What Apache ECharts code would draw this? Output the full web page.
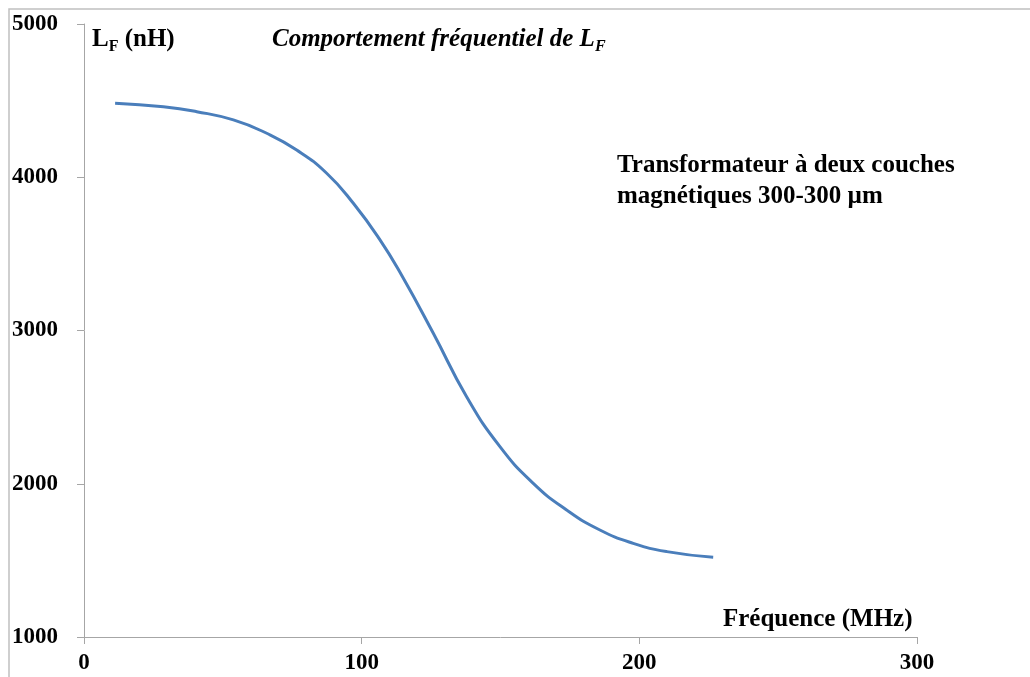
<!DOCTYPE html>
<html>
<head>
<meta charset="utf-8">
<script src="https://cdn.jsdelivr.net/npm/echarts@6/dist/echarts.min.js"></script>
<style>
  html, body { margin: 0; padding: 0; background: #fff; }
  #chart { width: 1030px; height: 677px; }
</style>
</head>
<body>
<div id="chart"></div>
<script>
// Frequency (MHz) and inductance L_F (nH)
const frequency = [11.2, 28.6, 40.6, 53.8, 65.8, 76.6, 87.4, 97.0, 106.6, 114.4, 125.8, 137.8, 149.8, 161.8, 173.8, 185.8, 197.8, 209.9, 226.6];
const inductance = [4483, 4460, 4428, 4374, 4287, 4178, 4026, 3830, 3591, 3360, 2982, 2568, 2242, 2003, 1829, 1698, 1611, 1557, 1520];

const xTicks = [0, 100, 200, 300];
const yTicks = [1000, 2000, 3000, 4000, 5000];

const serif = '"Liberation Serif", "Times New Roman", serif';
const axisGray = '#a6a6a6';

const chart = echarts.init(document.getElementById('chart'));

chart.setOption({
  backgroundColor: '#fff',
  animation: false,
  grid: { left: 84, right: 113, top: 24, bottom: 40, containLabel: false },
  xAxis: {
    type: 'value',
    min: xTicks[0],
    max: xTicks[xTicks.length - 1],
    interval: 100,
    splitLine: { show: false },
    axisLine: { show: true, lineStyle: { color: axisGray, width: 1 } },
    axisTick: { show: true, inside: false, length: 7, lineStyle: { color: axisGray } },
    axisLabel: {
      margin: 15,
      formatter: v => String(v),
      fontFamily: serif, fontWeight: 'bold', fontSize: 23, color: '#000'
    }
  },
  yAxis: {
    type: 'value',
    min: yTicks[0],
    max: yTicks[yTicks.length - 1],
    interval: 1000,
    splitLine: { show: false },
    axisLine: { show: true, lineStyle: { color: axisGray, width: 1 } },
    axisTick: { show: true, inside: false, length: 7, lineStyle: { color: axisGray } },
    axisLabel: {
      margin: 26,
      formatter: v => String(v),
      fontFamily: serif, fontWeight: 'bold', fontSize: 23, color: '#000'
    }
  },
  series: [{
    type: 'line',
    data: frequency.map((f, i) => [f, inductance[i]]),
    smooth: 0.5,
    showSymbol: false,
    lineStyle: { color: '#4a7ebb', width: 3 }
  }],
  graphic: [
    {
      // chart-area frame
      type: 'rect',
      shape: { x: 9, y: 9, width: 1200, height: 900 },
      style: { fill: 'none', stroke: '#c0c0c0', lineWidth: 1.5 },
      silent: true
    },
    {
      type: 'text',
      left: 92, top: 27,
      style: {
        text: '{a|L}{s|F}{a| (nH)}',
        rich: {
          a: { fontFamily: serif, fontWeight: 'bold', fontSize: 25, fill: '#000' },
          s: { fontFamily: serif, fontWeight: 'bold', fontSize: 16, fill: '#000', padding: [14, 0, 0, 0] }
        }
      }
    },
    {
      type: 'text',
      left: 272, top: 27,
      style: {
        text: '{a|Comportement fréquentiel de L}{s|F}',
        rich: {
          a: { fontFamily: serif, fontWeight: 'bold', fontStyle: 'italic', fontSize: 25, fill: '#000' },
          s: { fontFamily: serif, fontWeight: 'bold', fontStyle: 'italic', fontSize: 16, fill: '#000', padding: [14, 0, 0, 0] }
        }
      }
    },
    {
      type: 'text',
      left: 617, top: 150,
      style: {
        text: 'Transformateur à deux couches\nmagnétiques 300-300 µm',
        fontFamily: serif, fontWeight: 'bold', fontSize: 25, lineHeight: 31, fill: '#000'
      }
    },
    {
      type: 'text',
      left: 723, top: 607,
      style: {
        text: 'Fréquence (MHz)',
        fontFamily: serif, fontWeight: 'bold', fontSize: 25, fill: '#000'
      }
    }
  ]
});
</script>
</body>
</html>
